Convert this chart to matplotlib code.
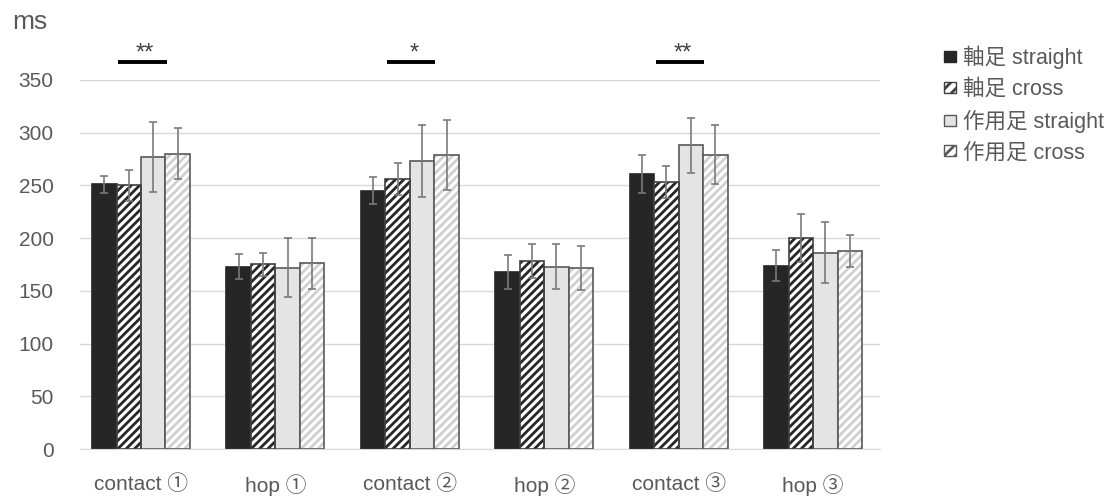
import numpy as np
import matplotlib.pyplot as plt
from matplotlib.patches import Patch

plt.rcParams['font.family'] = ['Liberation Sans', 'Noto Sans CJK JP', 'DejaVu Sans']
plt.rcParams['hatch.linewidth'] = 2.0

# data
categories = ['contact ①', 'hop ①', 'contact ②', 'hop ②', 'contact ③', 'hop ③']
series_names = ['軸足 straight', '軸足 cross', '作用足 straight', '作用足 cross']
means = [
    [251, 173, 245, 168, 261, 174],   # 軸足 straight
    [250, 175, 256, 178, 253, 200],   # 軸足 cross
    [277, 172, 273, 173, 288, 186],   # 作用足 straight
    [280, 176, 279, 172, 279, 188],   # 作用足 cross
]
errors = [
    [8, 12, 13, 16, 18, 15],
    [15, 11, 15, 16, 15, 23],
    [33, 28, 34, 21, 26, 29],
    [24, 24, 33, 21, 28, 15],
]
sig_groups = [0, 2, 4]
sig_labels = ['**', '*', '**']

# styles
faces = ['#262626', 'white', '#e4e4e4', 'white']
edges = ['#262626', '#404040', '#595959', '#595959']
hatches = [None, '////', None, '////']
hatch_cols = [None, '#262626', None, '#d0d0d0']

fig = plt.figure(figsize=(11.2, 4.99), dpi=100)
ax = fig.add_axes([0.0714, 0.1002, 0.7146, 0.7395])

x = np.arange(len(categories))
w = 0.182
for i in range(4):
    pos = x + (i - 1.5) * w
    bars = ax.bar(pos, means[i], w, color=faces[i], edgecolor=edges[i], linewidth=1.2, zorder=2)
    if hatches[i]:
        for b in bars:
            b.set_hatch(hatches[i])
            b.set_edgecolor(hatch_cols[i])
            b.set_linewidth(0)
        ax.bar(pos, means[i], w, color='none', edgecolor=edges[i], linewidth=1.2, zorder=3)
    ax.errorbar(pos, means[i], yerr=errors[i], fmt='none', ecolor='#7a7a7a', elinewidth=1.2,
                capsize=3, capthick=1.2, zorder=4)

for g, lab in zip(sig_groups, sig_labels):
    ax.plot([x[g] - 0.17, x[g] + 0.19], [367, 367], color='black', lw=2.8, clip_on=False,
            solid_capstyle='butt')
    ax.text(x[g] + 0.03, 369, lab, ha='center', va='baseline', fontsize=17, color='#404040')

ax.set_xlim(-0.454, 5.5)
ax.set_ylim(0, 350)
ax.set_yticks(np.arange(0, 351, 50))
ax.set_xticks(x)
ax.set_xticklabels(categories)
ax.tick_params(axis='both', length=0, labelsize=15, labelcolor='#595959')
ax.tick_params(axis='y', pad=19)
ax.tick_params(axis='x', pad=18)
ax.grid(axis='y', color='#d9d9d9', lw=1, zorder=0)
ax.set_axisbelow(True)
for s in ['top', 'right', 'left']:
    ax.spines[s].set_visible(False)
ax.spines['bottom'].set_color('#d9d9d9')

fig.text(0.011, 0.955, 'ms', fontsize=19, color='#595959', va='center')

handles = []
for i in range(4):
    if hatches[i]:
        handles.append(Patch(facecolor=faces[i], edgecolor=edges[i], hatch='///'))
    else:
        handles.append(Patch(facecolor=faces[i], edgecolor=edges[i]))
leg = fig.legend(handles, series_names, loc='upper left', bbox_to_anchor=(0.835, 0.925),
                 frameon=False, fontsize=15.5, handlelength=0.55, handleheight=0.42,
                 handletextpad=0.35, labelspacing=0.45, borderaxespad=0)
for t in leg.get_texts():
    t.set_color('#595959')

fig.savefig('out.png', dpi=100)
